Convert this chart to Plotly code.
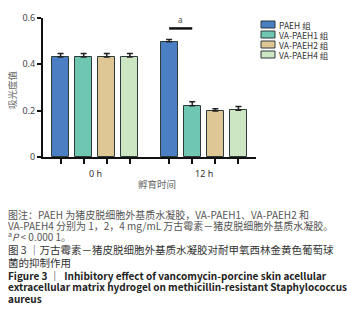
import plotly.graph_objects as go

# ---- data ----
groups = ["0 h", "12 h"]
series = ["PAEH 组", "VA-PAEH1 组", "VA-PAEH2 组", "VA-PAEH4 组"]
values_0h = [0.432, 0.432, 0.432, 0.432]
errors_0h = [0.015, 0.015, 0.015, 0.015]
values_12h = [0.498, 0.221, 0.199, 0.202]
errors_12h = [0.009, 0.017, 0.009, 0.016]
y_ticks = [0, 0.2, 0.4, 0.6]
y_tick_text = ["0", "0.2", "0.4", "0.6"]
sig_level = 0.555
sig_label = "a"
colors = ["#4a7fc3", "#6fc7b1", "#dec795", "#cce5c2"]

values = [values_0h, values_12h]
errors = [errors_0h, errors_12h]

# ---- geometry ----
W, H = 347, 324
ML, MR, MT, MB = 43, 91, 18, 167
PW, PH = W - ML - MR, H - MT - MB
group_step = 4.7
bar_w = 0.74

def px2x(px):
    return (px - ML) / PW

def px2y(py):
    return (H - MB - py) / PH

fig = go.Figure()
tickpos = []
for si, name in enumerate(series):
    xs = [gi * group_step + si for gi in range(len(groups))]
    tickpos += xs
    fig.add_trace(go.Bar(
        x=xs, y=[values[gi][si] for gi in range(len(groups))],
        width=bar_w, name=name,
        marker=dict(color=colors[si], line=dict(color="#2f3a3a", width=1)),
        error_y=dict(type="data", array=[errors[gi][si] for gi in range(len(groups))],
                     symmetric=False, arrayminus=[0, 0],
                     color="#222", thickness=1.5, width=3),
        showlegend=False,
    ))

# significance bracket between PAEH and VA-PAEH1 at 12 h
x0 = group_step * 1 + 0
x1 = group_step * 1 + 1
fig.add_shape(type="line", xref="x", yref="y", x0=x0, x1=x1, y0=sig_level, y1=sig_level,
              line=dict(color="#111", width=2.5))
fig.add_annotation(x=(x0 + x1) / 2, y=sig_level, xref="x", yref="y", text=sig_label,
                   showarrow=False, yanchor="bottom", yshift=1,
                   font=dict(size=8, color="#444", family="Noto Sans"))

def label(xpx, ypx, text, size, color, family="Noto Sans CJK SC", xanchor="center", angle=0):
    fig.add_annotation(x=px2x(xpx), y=px2y(ypx), xref="paper", yref="paper", text=text,
                       xanchor=xanchor, yanchor="middle", textangle=angle, showarrow=False,
                       font=dict(size=size, color=color, family=family))

# group labels
for gi, g in enumerate(groups):
    fig.add_annotation(x=gi * group_step + 1.5, xref="x", y=px2y(173), yref="paper",
                       yanchor="middle", text=g, showarrow=False,
                       font=dict(size=9, color="#333", family="Noto Sans"))
label(157, 184, "孵育时间", 9.5, "#666")
label(12, 90, "吸光度值", 9.5, "#666", angle=-90)

# legend (drawn manually for compact rows)
for si, name in enumerate(series):
    yc = 24.5 + si * 10
    fig.add_shape(type="rect", xref="paper", yref="paper",
                  x0=px2x(261), x1=px2x(275), y0=px2y(yc + 3.5), y1=px2y(yc - 3.5),
                  fillcolor=colors[si], line=dict(color="#2f3a3a", width=1))
    label(277, yc, name, 8.5, "#333", xanchor="left")

# caption
cap = [
    (214.5, "图注：PAEH 为猪皮脱细胞外基质水凝胶，VA-PAEH1、VA-PAEH2 和", 10, "#555", False),
    (225.5, "VA-PAEH4 分别为 1，2，4 mg/mL 万古霉素－猪皮脱细胞外基质水凝胶。", 10, "#555", False),
    (236.5, "<sup>a</sup><i>P</i> < 0.000 1。", 10, "#555", False),
    (249.5, "图 3 ｜万古霉素－猪皮脱细胞外基质水凝胶对耐甲氧西林金黄色葡萄球", 10.5, "#333", False),
    (262, "菌的抑制作用", 10.5, "#333", False),
    (275, "Figure 3 ｜  Inhibitory effect of vancomycin-porcine skin acellular", 10, "#222", True),
    (286.5, "extracellular matrix hydrogel on methicillin-resistant Staphylococcus", 10, "#222", True),
    (298, "aureus", 10, "#222", True),
]
for yc, txt, fs, col, bold in cap:
    label(6, yc, ("<b>%s</b>" % txt) if bold else txt, fs, col, xanchor="left")

fig.update_layout(
    width=W, height=H, autosize=False,
    margin=dict(l=ML, r=MR, t=MT, b=MB, pad=0),
    paper_bgcolor="white", plot_bgcolor="white",
    bargap=0, showlegend=False,
    xaxis=dict(range=[-0.76, (len(groups) - 1) * group_step + 3 + 0.76],
               tickvals=tickpos, ticktext=[""] * len(tickpos), automargin=False,
               ticks="outside", ticklen=5, tickwidth=1.5, tickcolor="#111",
               showline=True, linecolor="#111", linewidth=2, showgrid=False, zeroline=False,
               fixedrange=True),
    yaxis=dict(range=[0, 0.6], tickvals=y_ticks, ticktext=y_tick_text, automargin=False,
               ticks="outside", ticklen=4, tickwidth=1.5, tickcolor="#111",
               showline=True, linecolor="#111", linewidth=2, showgrid=False, zeroline=False,
               tickfont=dict(size=9, color="#444", family="Noto Sans"), fixedrange=True),
    font=dict(family="Noto Sans CJK SC"),
)

fig.write_html("out.html", config={"displayModeBar": False},
               post_script="document.body.style.margin='0';")
